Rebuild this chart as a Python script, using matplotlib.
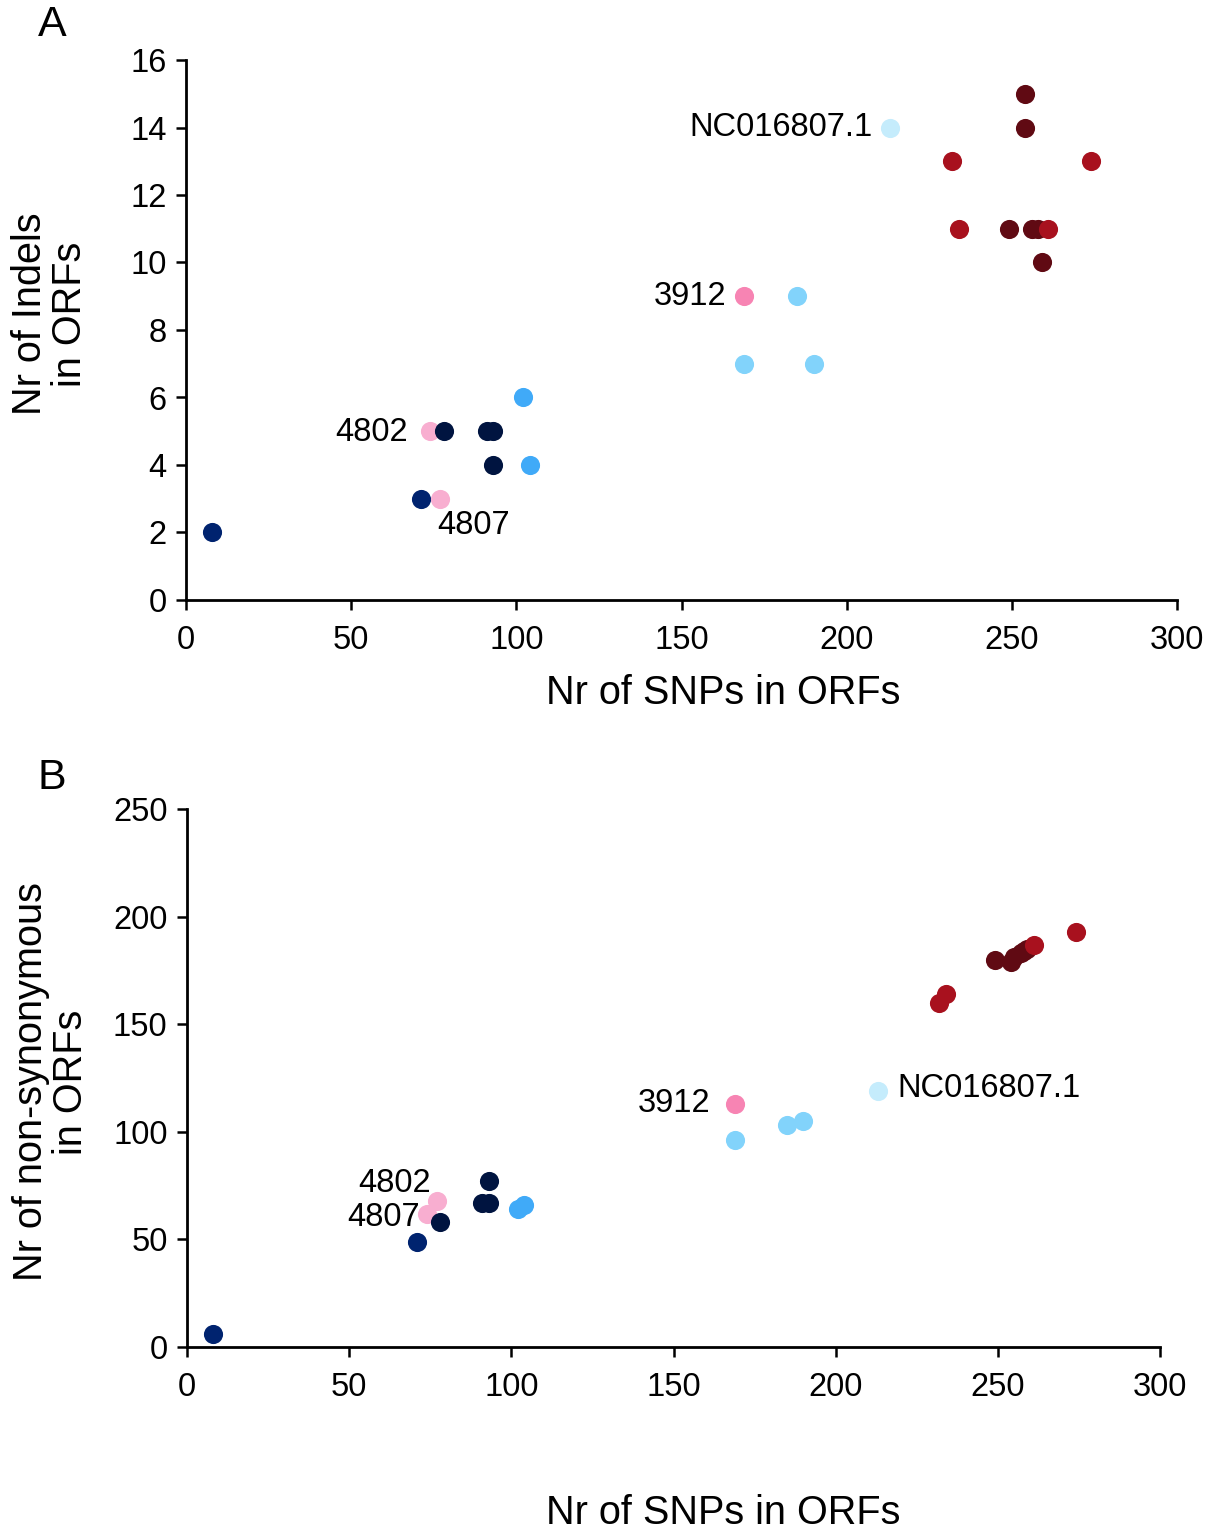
import matplotlib
matplotlib.use("Agg")
import matplotlib.pyplot as plt

plt.rcParams['font.family'] = ['Liberation Sans', 'DejaVu Sans']

# colour groups
group_colors = {
    "navy": "#00236f",
    "lightpink": "#f8aed0",
    "midnight": "#001440",
    "blue": "#40aaf8",
    "pink": "#f784b3",
    "skyblue": "#82d3fb",
    "paleblue": "#c5ecfc",
    "darkred": "#600a13",
    "red": "#a8111e",
}
draw_order = ["navy", "lightpink", "midnight", "blue", "pink", "skyblue",
              "paleblue", "darkred", "red"]

# Panel A: SNPs vs indels in ORFs
a_snps = {
    "navy": [8, 71],
    "lightpink": [74, 77],
    "midnight": [78, 91, 93, 93],
    "blue": [102, 104],
    "pink": [169],
    "skyblue": [185, 169, 190],
    "paleblue": [213],
    "darkred": [254, 254, 249, 256, 258, 259],
    "red": [232, 234, 274, 261],
}
a_indels = {
    "navy": [2, 3],
    "lightpink": [5, 3],
    "midnight": [5, 5, 5, 4],
    "blue": [6, 4],
    "pink": [9],
    "skyblue": [9, 7, 7],
    "paleblue": [14],
    "darkred": [15, 14, 11, 11, 11, 10],
    "red": [13, 11, 13, 11],
}
# labels: (text, group, index, dx pt, dy pt, ha)
a_labels = [
    ("NC016807.1", "paleblue", 0, -12, 0, "right"),
    ("3912", "pink", 0, -13, 0, "right"),
    ("4802", "lightpink", 0, -16, -1, "right"),
    ("4807", "lightpink", 1, -2, -19, "left"),
]

# Panel B: SNPs vs non-synonymous in ORFs
b_snps = {
    "navy": [8, 71],
    "lightpink": [77, 74],
    "midnight": [78, 93, 91, 93],
    "blue": [102, 104],
    "pink": [169],
    "skyblue": [169, 185, 190],
    "paleblue": [213],
    "darkred": [249, 254, 255, 257, 258, 259],
    "red": [232, 234, 274, 261],
}
b_nonsyn = {
    "navy": [6, 49],
    "lightpink": [68, 62],
    "midnight": [58, 77, 67, 67],
    "blue": [64, 66],
    "pink": [113],
    "skyblue": [96, 103, 105],
    "paleblue": [119],
    "darkred": [180, 179, 181, 183, 184, 185],
    "red": [160, 164, 193, 187],
}
b_labels = [
    ("NC016807.1", "paleblue", 0, 14, 2, "left"),
    ("3912", "pink", 0, -18, 0, "right"),
    ("4802", "lightpink", 0, -4, 12, "right"),
    ("4807", "lightpink", 1, -5, -3, "right"),
]

x_ticks = [0, 50, 100, 150, 200, 250, 300]
a_yticks = [0, 2, 4, 6, 8, 10, 12, 14, 16]
b_yticks = [0, 50, 100, 150, 200, 250]

W, H = 1213, 1532
fig = plt.figure(figsize=(W / 100, H / 100), dpi=100)

TICK_FS = 23.5
LABEL_FS = 28.5
MS = 190


def style(ax, yticks, ymax):
    ax.set_xlim(0, 300)
    ax.set_ylim(0, ymax)
    ax.set_xticks(x_ticks)
    ax.set_yticks(yticks)
    for s in ("top", "right"):
        ax.spines[s].set_visible(False)
    for s in ("left", "bottom"):
        ax.spines[s].set_linewidth(2.0)
        ax.spines[s].set_color("black")
    ax.tick_params(direction="out", length=7, width=1.8, labelsize=TICK_FS,
                   colors="black")
    ax.tick_params(axis="y", pad=7)
    ax.tick_params(axis="x", pad=11)


def scatter(ax, xs, ys, labels):
    for g in draw_order:
        ax.scatter(xs[g], ys[g], s=MS, color=group_colors[g], linewidths=0,
                   zorder=3, clip_on=False)
    for text, g, i, dx, dy, ha in labels:
        ax.annotate(text, (xs[g][i], ys[g][i]), xytext=(dx, dy),
                    textcoords="offset points", ha=ha, va="center",
                    fontsize=TICK_FS, color="black")


axA = fig.add_axes([186 / W, 1 - 600 / H, (1177 - 186) / W, (600 - 60) / H])
style(axA, a_yticks, 16)
scatter(axA, a_snps, a_indels, a_labels)

axB = fig.add_axes([187 / W, 1 - 1347 / H, (1160 - 187) / W, (1347 - 809) / H])
style(axB, b_yticks, 250)
scatter(axB, b_snps, b_nonsyn, b_labels)

# axis labels
fig.text(723 / W, 1 - 693 / H, "Nr of SNPs in ORFs", ha="center", va="center",
         fontsize=LABEL_FS)
fig.text(723 / W, 1 - 1513 / H, "Nr of SNPs in ORFs", ha="center", va="center",
         fontsize=LABEL_FS)
fig.text(50 / W, 1 - 314 / H, "Nr of Indels\nin ORFs", ha="center", va="center",
         rotation=90, fontsize=LABEL_FS, multialignment="center", linespacing=1.05)
fig.text(51 / W, 1 - 1082 / H, "Nr of non-synonymous\nin ORFs", ha="center",
         va="center", rotation=90, fontsize=LABEL_FS, multialignment="center",
         linespacing=1.05)

# panel letters
fig.text(52 / W, 1 - 25 / H, "A", ha="center", va="center", fontsize=31)
fig.text(52 / W, 1 - 778 / H, "B", ha="center", va="center", fontsize=31)

fig.savefig("out.png", dpi=100, facecolor="white")
